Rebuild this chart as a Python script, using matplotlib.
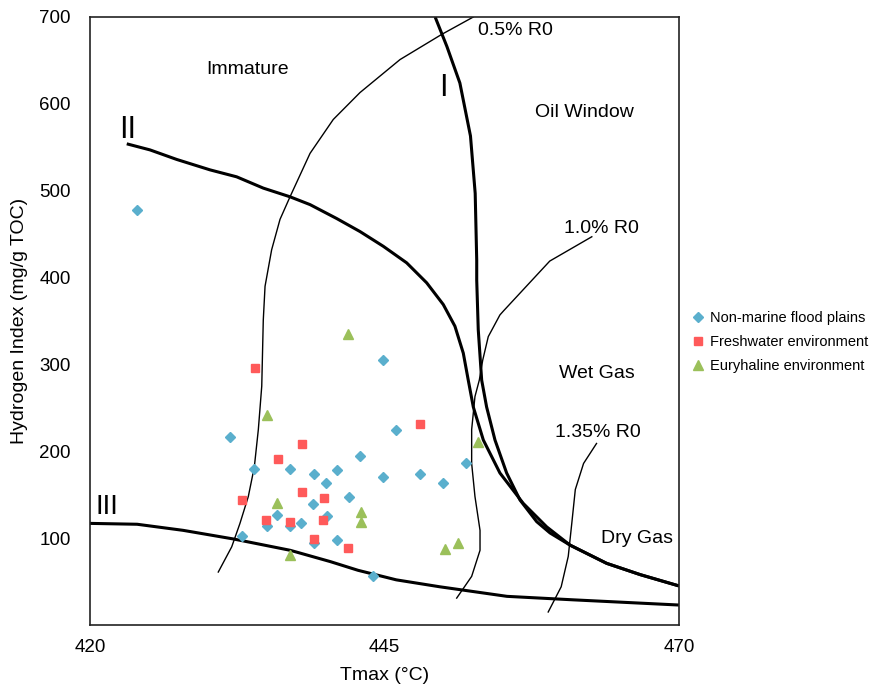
import matplotlib
matplotlib.use("Agg")
import matplotlib.pyplot as plt

plt.rcParams["font.family"] = ["Liberation Sans", "DejaVu Sans"]

# sample points (Tmax, HI)
flood_x = [424.0, 444.9, 431.9, 446.0, 442.9, 433.9, 437.0, 439.0, 441.0, 440.0, 444.9,
           448.0, 450.0, 451.9, 442.0, 438.9, 435.9, 440.1, 435.0, 437.0, 437.9, 432.9,
           439.0, 441.0, 444.0]
flood_y = [478, 305, 216, 224, 195, 180, 180, 174, 178, 164, 170,
           174, 163, 186, 147, 139, 127, 126, 114, 114, 117, 102,
           94, 98, 56]

fresh_x = [434.0, 448.0, 438.0, 436.0, 438.0, 439.9, 432.9, 434.9, 437.0, 439.8, 439.0, 441.9]
fresh_y = [296, 231, 208, 191, 153, 146, 144, 121, 119, 121, 99, 89]

eury_x = [441.9, 435.0, 452.9, 435.9, 443.0, 443.0, 451.2, 450.1, 437.0]
eury_y = [335, 242, 211, 141, 130, 119, 94, 87, 81]

# kerogen type boundaries
type1_x = [449.3, 450.3, 451.4, 452.3, 452.7, 452.83, 452.83, 452.96, 453.25, 453.67,
           454.38, 455.37, 456.5, 457.92, 459.05, 460.75, 463.86, 466.71, 470.0]
type1_y = [700, 666, 624, 563, 497, 420, 397, 340, 282, 251,
           213, 175, 144, 119, 106, 92, 71, 58, 45]

type2_x = [423.12, 425.09, 427.36, 430.19, 432.45, 434.71, 436.98, 438.68, 440.94,
           442.92, 444.9, 446.88, 448.58, 449.99, 450.98, 451.69, 452.11, 452.54,
           453.39, 454.8, 456.78, 458.77, 460.75, 463.86, 466.71, 470.0]
type2_y = [554, 547, 536, 524, 516, 503, 493, 484, 468,
           453, 436, 417, 394, 369, 344, 313, 282, 251,
           213, 175, 140, 113, 92, 71, 58, 45]

type3_x = [420.0, 424.0, 427.9, 432.2, 437.0, 440.4, 442.75, 446.0, 449.7, 455.4, 461.0, 470.0]
type3_y = [117, 116, 109, 99, 86, 73, 63, 52, 44, 33, 29, 23]

# vitrinite reflectance lines
r05_x = [452.54, 449.86, 446.32, 442.92, 440.65, 438.68, 436.98, 436.13, 435.42,
         434.86, 434.71, 434.58, 434.29, 433.95, 433.44, 432.73, 432.03, 430.89]
r05_y = [700, 680, 651, 613, 582, 543, 493, 467, 432,
         390, 351, 275, 225, 182, 148, 117, 90, 61]

r10_x = [462.6, 459.03, 455.13, 454.8, 453.81, 453.34, 453.05, 452.68, 452.4, 452.4,
         452.68, 453.11, 453.11, 452.4, 451.13]
r10_y = [447, 419, 362, 357, 332, 305, 282, 263, 225, 186,
         148, 109, 86, 56, 31]

r135_x = [463.0, 461.9, 461.2, 460.9, 460.6, 460.0, 458.9]
r135_y = [209, 186, 156, 117, 79, 44, 15]

labels = ["Non-marine flood plains", "Freshwater environment", "Euryhaline environment"]

fig = plt.figure(figsize=(8.85, 6.91), dpi=100)
ax = fig.add_axes([0.1017, 0.0955, 0.6655, 0.8799])

for xs, ys in [(type1_x, type1_y), (type2_x, type2_y), (type3_x, type3_y)]:
    ax.plot(xs, ys, color="black", lw=2.2, solid_capstyle="butt", solid_joinstyle="round")
for xs, ys in [(r05_x, r05_y), (r10_x, r10_y), (r135_x, r135_y)]:
    ax.plot(xs, ys, color="black", lw=1.0, solid_joinstyle="round")

ax.plot(flood_x, flood_y, ls="none", marker="D", ms=5.2, color="#5aafcd", label=labels[0])
ax.plot(fresh_x, fresh_y, ls="none", marker="s", ms=5.8, color="#ff5a5a", label=labels[1])
ax.plot(eury_x, eury_y, ls="none", marker="^", ms=7, color="#9bc05a", label=labels[2])

fs = 14
ax.text(433.4, 639, "Immature", fontsize=fs, ha="center", va="center")
ax.text(456.1, 684, "0.5% R0", fontsize=fs, ha="center", va="center")
ax.text(462.0, 590, "Oil Window", fontsize=fs, ha="center", va="center")
ax.text(463.4, 457, "1.0% R0", fontsize=fs, ha="center", va="center")
ax.text(463.0, 290, "Wet Gas", fontsize=fs, ha="center", va="center")
ax.text(463.1, 222, "1.35% R0", fontsize=fs, ha="center", va="center")
ax.text(466.4, 100, "Dry Gas", fontsize=fs, ha="center", va="center")
ax.text(450.0, 618, "I", fontsize=22, ha="center", va="center")
ax.text(423.2, 570, "II", fontsize=22, ha="center", va="center")
ax.text(421.4, 136, "III", fontsize=20, ha="center", va="center")

ax.set_xlim(420, 470)
ax.set_ylim(0, 700)
ax.set_xticks([420, 445, 470])
ax.set_yticks([100, 200, 300, 400, 500, 600, 700])
ax.tick_params(axis="both", length=0, labelsize=13.5)
ax.tick_params(axis="y", pad=14)
ax.tick_params(axis="x", pad=10)
for sp in ax.spines.values():
    sp.set_linewidth(1.2)
    sp.set_color("#222222")

ax.set_xlabel("Tmax (°C)", fontsize=14, labelpad=8)
ax.set_ylabel("Hydrogen Index (mg/g TOC)", fontsize=14, labelpad=8)

fig.legend(loc="center left", bbox_to_anchor=(0.782, 0.505), frameon=False,
           fontsize=10.5, handlelength=0.8, handletextpad=0.4, labelspacing=0.7,
           borderpad=0, borderaxespad=0, numpoints=1)

fig.savefig("out.png", dpi=100)
